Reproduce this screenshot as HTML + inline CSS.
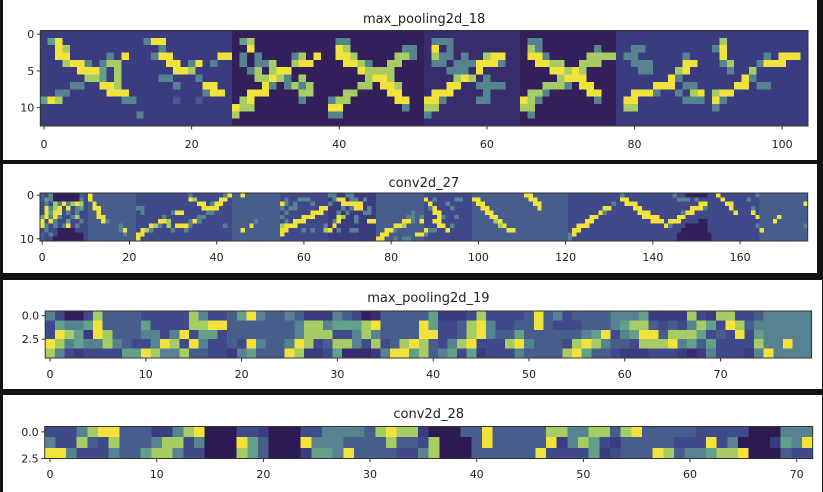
<!DOCTYPE html>
<html><head><meta charset="utf-8"><style>
html,body{margin:0;padding:0;background:#111;width:823px;height:492px;overflow:hidden}
svg{display:block}
text{font-family:"DejaVu Sans","Liberation Sans",sans-serif;fill:#222}
</style></head><body>
<svg id="chart" width="823" height="492" viewBox="0 0 823 492" xmlns="http://www.w3.org/2000/svg"></svg>
<script>
const palette=['#2d1a52','#33205b','#372d6d','#3b3b80','#40498a','#475e8d','#56838f','#62a08a','#a6cc63','#f2e33c'];

// ---- Panel 1: max_pooling2d_18 (8 tiles of 13x13) ----
const p1TileBg=[3,3,1,1,2,1,3,3];
const p1Tiles=[
[".............",".79..........","..98.........","..99.....6.9.","...8996.688..",".....9997.8..","......887.8..","....66..998..","..66.....999.","798........66",".............",".............","............."],
[".............",".699.........","...6.........","..699......99","....99.69.6..",".....998.....","...66...6....",".....6...99..",".........699.",".....5..5....",".............","6............","............."],
[".............",".78..........","..9..........",".6.6....68.9.",".6.668..899..","..68.899.....","...88986.8...","....96.6868..","..999....88..",".89......6...","988..........","8............","............."],
[".............",".66..........",".98.......66.",".998.....886.","..9986..88...","....98888....",".....8998....","....88.998...","..88....99...","688......99..","99........6..","66...........","............."],
[".............",".666.........",".9.6.........",".866.6..899..",".66.6669996..","...666.9.....","....898.6....","...99..6666..",".999....6....","996....66....","88...........","6............","............."],
[".............",".66..........",".86.......6..",".996.....8888","..9988..888..","....99898....",".....8999....","...8886.99...",".886.....99..","986.......6..","88...........",".6...........","............."],
[".............",".............","..66.........",".66......6...","..666....99..","...66...89...",".......96....",".....999.66..","..9996..6.89.",".99......666.",".88..........",".............","............."],
[".............",".8...........","69...........",".9.....6.999.",".68...6999...","..6..8.......","....96.......","...99.66.....","899..........","96...........","6............",".............","............."]
];
const p1XTicks=[0,20,40,60,80,100];
const p1YTicks=[0,5,10];

// ---- Panel 2: conv2d_27 (16 tiles of 11x11) ----
const p2TileBg=[4,5,4,4,5,4,3,5,4,5,5,4,4,4,4,5];
const p2Tiles=[
["5.61111115.","5761111116.",".6.8696898.",".9689.9.67.",".9799.6.6..","79696..68..","9.96..7..6.","96.6.69.6..",".6..1111...","5.6.111111.","5..1111111."],
["9..........","9..........",".9.........",".99........","..9........","..99.......","...96......",".......6...",".......69..","........6..","..........."],
["...........","...........","...........","66.........",".6......699","......6....",".....998...","...986.8.99",".986....6..","99.........","9.........."],
[".6.......69",".98.....99.","...99.699..","....9999...",".....66....","...66......",".696.......","96.......6.","6..........","...........","..........."],
["..9........","...........","...........","...........","...........","...........",".....6.....","....9......","..9........","...........","..........."],
["...........",".6..666....","96.6...6...","6.66.....99",".6.....999.","6....999...",".6.999.....","8999......6","99...6.6..8","9..........","..........."],
["66..66.....",".699.66.6..","6..99999...","...6.699.6.","..6.6...66.","..98..6....",".69...6..99",".9.........","9.6..66....","...........","..........."],
["...........","...........","...........","...........","........6..",".......66.6","......996.9","....998....","..996......",".99......99","99..6.66..."],
["...........","9.6....66..",".9...6.....",".69...6....","..99.......","...96..6...","..99.......","...99.6....","966..9.....","6..........","..........."],
["...........","99.........",".99........","..99.......","...99......","....99.....",".....89....","......89...","........99.","...........","..........."],
[".99........","..99.......","...99......","....9......","...........","...........","...........","...........","...........","...........","..........."],
["...........","...........","..........6","........99.",".......96..",".....99....","....99.....","..999......",".99........","69.........","6.........."],
[".6.........",".99........","..999......","....99.....",".....999...","......9999.","........999","...........","...........","...........","..........."],
["..6..11111.","...666.6...","........99.","......9996.","....699....","...99......",".999....11.","96...11111.","....111111.","...11111111","...11111111"],
[".9........6","..9.....6..","...99......","....9....6.",".....9...9.","..........9","...........","..........6","...........","...........","..........."],
["...........","...........","..........9","...........","...........","....9......","...9.......","..........6","9..........","...........","..........."]
];
const p2XTicks=[0,20,40,60,80,100,120,140,160];
const p2YTicks=[0,10];

// ---- Panel 3: max_pooling2d_19 (5 x 80) ----
const p3Rows=[
"64114855554444486445796556533365412555557333484444595645555666733338438844566666",
"47667955557444488995555555688677789555597445896445595444555678854546874985666666",
"49873985556646947745555555688844686555599445896557555555679467995888745494766666",
"98676686544698496445496556984588648458985468944489655548986554888967574444866966",
"86434444779866855443675559833472223699785674734446555589755433344432364443696666"
];
const p3XTicks=[0,10,20,30,40,50,60,70];
const p3YTicks=["0.0","2.5"];

// ---- Panel 4: conv2d_28 (3 x 72) ----
const p4Rows=[
"444689955533689000443000446666589883000559555558866885895555544444000666",
"644854855568846000975000966655558554800059555559368743555554449460003769",
"996444655788644000875000377695555446800055555594444734555985667889000544"
];
const p4XTicks=[0,10,20,30,40,50,60,70];
const p4YTicks=["0.0","2.5"];

const svg=document.getElementById('chart');
const NS='http://www.w3.org/2000/svg';
function mk(tag,attrs,parent){const e=document.createElementNS(NS,tag);for(const k in attrs)e.setAttribute(k,attrs[k]);(parent||svg).appendChild(e);return e;}

function assemble(tiles,bgs){
  const rows=[];
  for(let r=0;r<tiles[0].length;r++){
    let s='';
    tiles.forEach((t,i)=>{s+=t[r].replace(/\./g,String(bgs[i]));});
    rows.push(s);
  }
  return rows;
}

const panels=[
 {name:'max-pooling2d-18',title:'max_pooling2d_18',box:[3,0,814,160],left:40.3,right:808,top:30.5,bottom:126,rows:assemble(p1Tiles,p1TileBg),xt:p1XTicks,yt:p1YTicks,yv:p1YTicks,titleY:23,labY:148},
 {name:'conv2d-27',title:'conv2d_27',box:[3,164,814,109],left:40,right:807.7,top:193,bottom:241,rows:assemble(p2Tiles,p2TileBg),xt:p2XTicks,yt:p2YTicks,yv:p2YTicks,titleY:187,labY:261},
 {name:'max-pooling2d-19',title:'max_pooling2d_19',box:[3,280,819,109],left:45.2,right:811.6,top:311,bottom:358,rows:p3Rows,xt:p3XTicks,yt:p3YTicks,yv:[0,2.5],titleY:302,labY:378},
 {name:'conv2d-28',title:'conv2d_28',box:[3,395,819,97],left:44.7,right:812.7,top:426.5,bottom:458.5,rows:p4Rows,xt:p4XTicks,yt:p4YTicks,yv:[0,2.5],titleY:418,labY:478}
];

panels.forEach(p=>{
  const g=mk('g',{});
  
  
  const bg=mk('rect',{x:p.box[0],y:p.box[1],width:p.box[2],height:p.box[3],fill:'#ffffff'},g);
  
  
  const nCols=p.rows[0].length,nRows=p.rows.length;
  const cw=(p.right-p.left)/nCols, ch=(p.bottom-p.top)/nRows;
  const xScale=c=>p.left+c*cw;
  const yScale=r=>p.top+r*ch;
  const cells=mk('g',{'shape-rendering':'crispEdges'},g);
  
  
  p.rows.forEach((row,r)=>{
    for(let c=0;c<nCols;c++){
      const v=+row[c];
      const x0=xScale(c),x1=xScale(c+1),y0=yScale(r),y1=yScale(r+1);
      const cell=mk('rect',{x:x0.toFixed(2),y:y0.toFixed(2),width:(x1-x0+0.3).toFixed(2),height:(y1-y0+0.3).toFixed(2),fill:palette[v]},cells);
      
      
    }
  });
  const frame=mk('rect',{x:p.left,y:p.top,width:p.right-p.left,height:p.bottom-p.top,fill:'none',stroke:'#333',"stroke-width":1},g);
  
  
  const t=mk('text',{x:(p.left+p.right)/2,y:p.titleY,'text-anchor':'middle','font-size':13},g);
  t.textContent=p.title;
  
  
  p.xt.forEach(v=>{
    const x=xScale(v+0.5);
    const tk=mk('line',{x1:x,x2:x,y1:p.bottom,y2:p.bottom+3.5,stroke:'#333'},g);
    
    
    const lb=mk('text',{x:x,y:p.labY,'text-anchor':'middle','font-size':11},g);
    lb.textContent=v;
    
    
  });
  p.yt.forEach((lab,i)=>{
    const y=yScale(p.yv[i]+0.5);
    const tk=mk('line',{x1:p.left-3.5,x2:p.left,y1:y,y2:y,stroke:'#333'},g);
    
    
    const lb=mk('text',{x:p.left-6,y:y+4,'text-anchor':'end','font-size':11},g);
    lb.textContent=lab;
    
    
  });
});
</script>
</body></html>
